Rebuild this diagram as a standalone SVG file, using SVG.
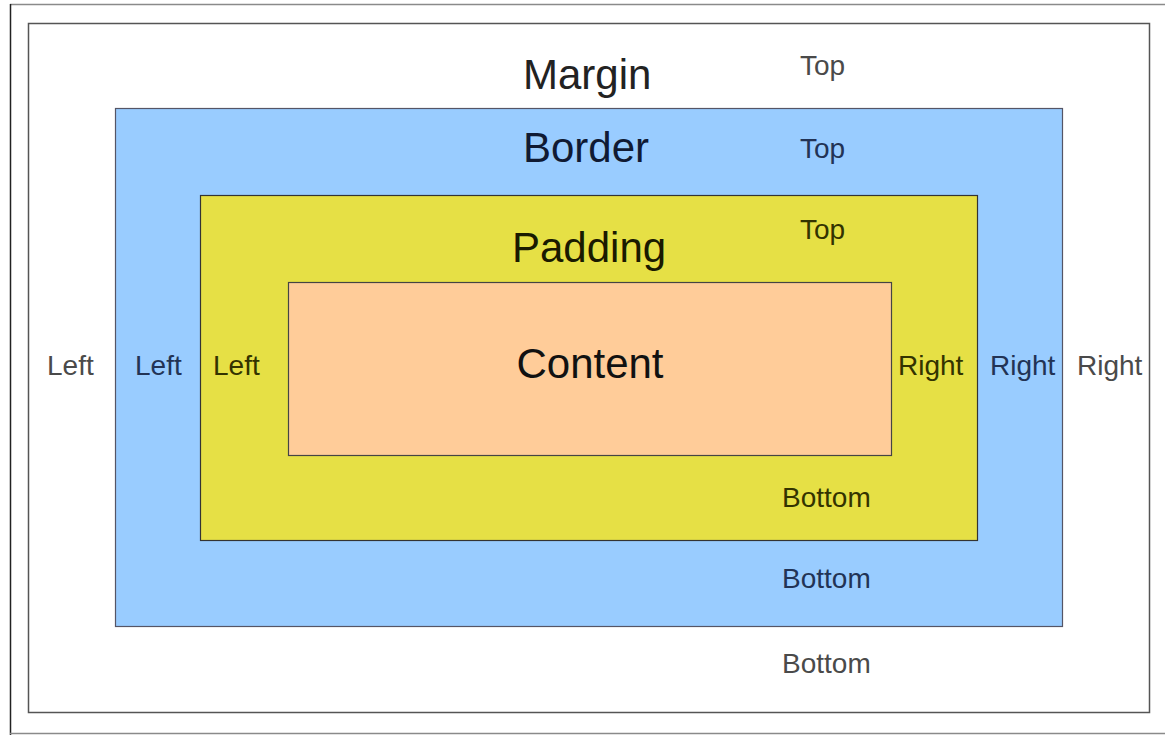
<svg xmlns="http://www.w3.org/2000/svg" width="1165" height="735" viewBox="0 0 1165 735">
<style>
.big{font-family:"Liberation Sans",Arial,sans-serif;font-size:42px}
.sm{font-family:"Liberation Sans",Arial,sans-serif;font-size:28px}
.m{fill:#4a4a4a}
.b{fill:#223355}
.p{fill:#333300}
</style>
<rect width="1165" height="735" fill="#ffffff"/>
<g id="frame">
<line x1="10" y1="4.5" x2="1165" y2="4.5" stroke="#8a8a8a" stroke-width="1.5"/>
<line x1="10.5" y1="4" x2="10.5" y2="735" stroke="#222" stroke-width="1.5"/>
<line x1="10" y1="733.5" x2="1165" y2="733.5" stroke="#8a8a8a" stroke-width="1.5"/>
</g>
<g id="margin">
<rect x="28.5" y="23.5" width="1121" height="689" fill="#ffffff" stroke="#555" stroke-width="1.5"/>
<text class="big" x="523" y="89" fill="#222">Margin</text>
<text class="sm m" x="800" y="75">Top</text>
<text class="sm m" x="47" y="375">Left</text>
<text class="sm m" x="1077" y="375">Right</text>
<text class="sm m" x="782" y="673">Bottom</text>
</g>
<g id="border">
<rect x="115.5" y="108.5" width="947" height="518" fill="#99ccff" stroke="#556" stroke-width="1.2"/>
<text class="big" x="523" y="162" fill="#101a33">Border</text>
<text class="sm b" x="800" y="158">Top</text>
<text class="sm b" x="135" y="375">Left</text>
<text class="sm b" x="990" y="375">Right</text>
<text class="sm b" x="782" y="588">Bottom</text>
</g>
<g id="padding">
<rect x="200.5" y="195.5" width="777" height="345" fill="#e6e045" stroke="#333" stroke-width="1.2"/>
<text class="big" x="512" y="262" fill="#1a1a00">Padding</text>
<text class="sm p" x="800" y="239">Top</text>
<text class="sm p" x="213" y="375">Left</text>
<text class="sm p" x="898" y="375">Right</text>
<text class="sm p" x="782" y="507" fill="#555510">Bottom</text>
</g>
<g id="content">
<rect x="288.5" y="282.5" width="603" height="173" fill="#ffcc99" stroke="#444" stroke-width="1.2"/>
<text class="big" x="590" y="378" text-anchor="middle" fill="#111">Content</text>
</g>
</svg>
